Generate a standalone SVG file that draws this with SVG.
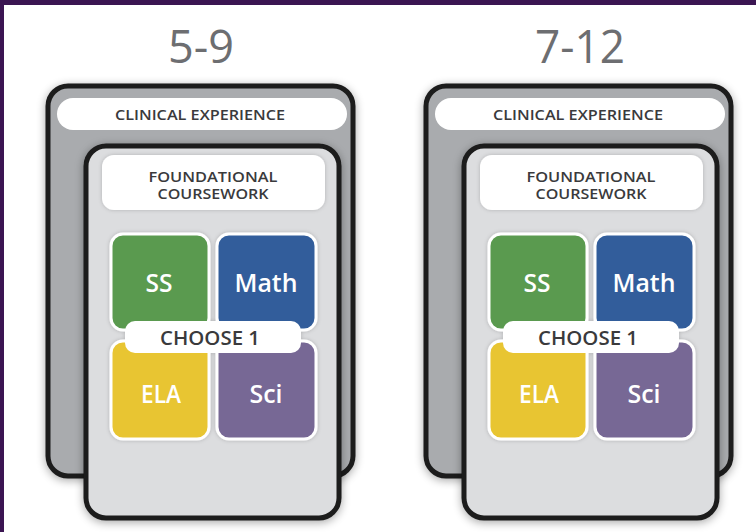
<svg xmlns="http://www.w3.org/2000/svg" width="756" height="532" viewBox="0 0 756 532">
<defs>
<filter id="sh" x="-20%" y="-20%" width="140%" height="140%">
<feGaussianBlur in="SourceAlpha" stdDeviation="5"/>
<feOffset dx="0" dy="2" result="b"/>
<feComponentTransfer><feFuncA type="linear" slope="0.35"/></feComponentTransfer>
<feMerge><feMergeNode/><feMergeNode in="SourceGraphic"/></feMerge>
</filter>
<filter id="sh2" x="-20%" y="-20%" width="140%" height="140%">
<feGaussianBlur in="SourceAlpha" stdDeviation="2"/>
<feComponentTransfer><feFuncA type="linear" slope="0.2"/></feComponentTransfer>
<feMerge><feMergeNode/><feMergeNode in="SourceGraphic"/></feMerge>
</filter>
<g id="panel">
<g class="outer">
<rect x="48" y="86" width="305" height="390" rx="20" fill="#a9abae" stroke="#1c1c1c" stroke-width="5" filter="url(#sh)"/>
<rect x="57" y="98" width="290" height="32" rx="16" fill="#ffffff"/>
<text x="200" y="120" class="lab" textLength="170" lengthAdjust="spacingAndGlyphs">CLINICAL EXPERIENCE</text>
</g>
<g class="inner">
<rect x="86" y="146" width="253" height="372" rx="20" fill="#dcdddf" stroke="#1c1c1c" stroke-width="5" filter="url(#sh)"/>
<rect x="102" y="155" width="223" height="55" rx="12" fill="#ffffff" filter="url(#sh2)"/>
<text x="213" y="182" class="lab" textLength="129" lengthAdjust="spacingAndGlyphs">FOUNDATIONAL</text>
<text x="213" y="199" class="lab" textLength="111" lengthAdjust="spacingAndGlyphs">COURSEWORK</text>
</g>
<g class="tiles" filter="url(#sh2)">
<rect x="111" y="234" width="98" height="96" rx="12" fill="#5a9a4f" class="tile"/>
<rect x="217" y="234" width="99" height="96" rx="12" fill="#305d9b" class="tile"/>
<rect x="111" y="341" width="98" height="98" rx="12" fill="#e8c531" class="tile"/>
<rect x="217" y="341" width="99" height="98" rx="12" fill="#776895" class="tile"/>
<rect x="125" y="321" width="176" height="32" rx="10" fill="#ffffff"/>
</g>
<text x="159" y="292" class="big" textLength="27" lengthAdjust="spacingAndGlyphs">SS</text>
<text x="266" y="292" class="big" textLength="63" lengthAdjust="spacingAndGlyphs">Math</text>
<text x="161" y="403" class="big" textLength="40" lengthAdjust="spacingAndGlyphs">ELA</text>
<text x="266" y="403" class="big" textLength="33" lengthAdjust="spacingAndGlyphs">Sci</text>
<text x="210" y="345" class="ch" textLength="100" lengthAdjust="spacingAndGlyphs">CHOOSE 1</text>
</g>
</defs>
<style>
text { font-family: "Open Sans", "Liberation Sans", sans-serif; text-anchor: middle; }
.lab { font-size: 14px; font-weight: 600; fill: #3a3a3c; }
.big { font-size: 25px; font-weight: 600; fill: #ffffff; }
.ch { font-size: 20px; font-weight: 600; fill: #3a3a3c; }
.title { font-size: 46px; fill: #6d6e71; }
.tile { stroke: #ffffff; stroke-width: 3; }
</style>
<rect x="0" y="0" width="756" height="532" fill="#ffffff"/>
<rect x="0" y="0" width="756" height="5" fill="#3b1552"/>
<rect x="0" y="0" width="4" height="532" fill="#3b1552"/>
<g id="panel-5-9">
<text x="201" y="63" class="title" textLength="66" lengthAdjust="spacingAndGlyphs">5-9</text>
<use href="#panel"/>
</g>
<g id="panel-7-12">
<text x="580" y="63" class="title" textLength="90" lengthAdjust="spacingAndGlyphs">7-12</text>
<use href="#panel" x="378"/>
</g>
<g id="connectors"/>
</svg>
